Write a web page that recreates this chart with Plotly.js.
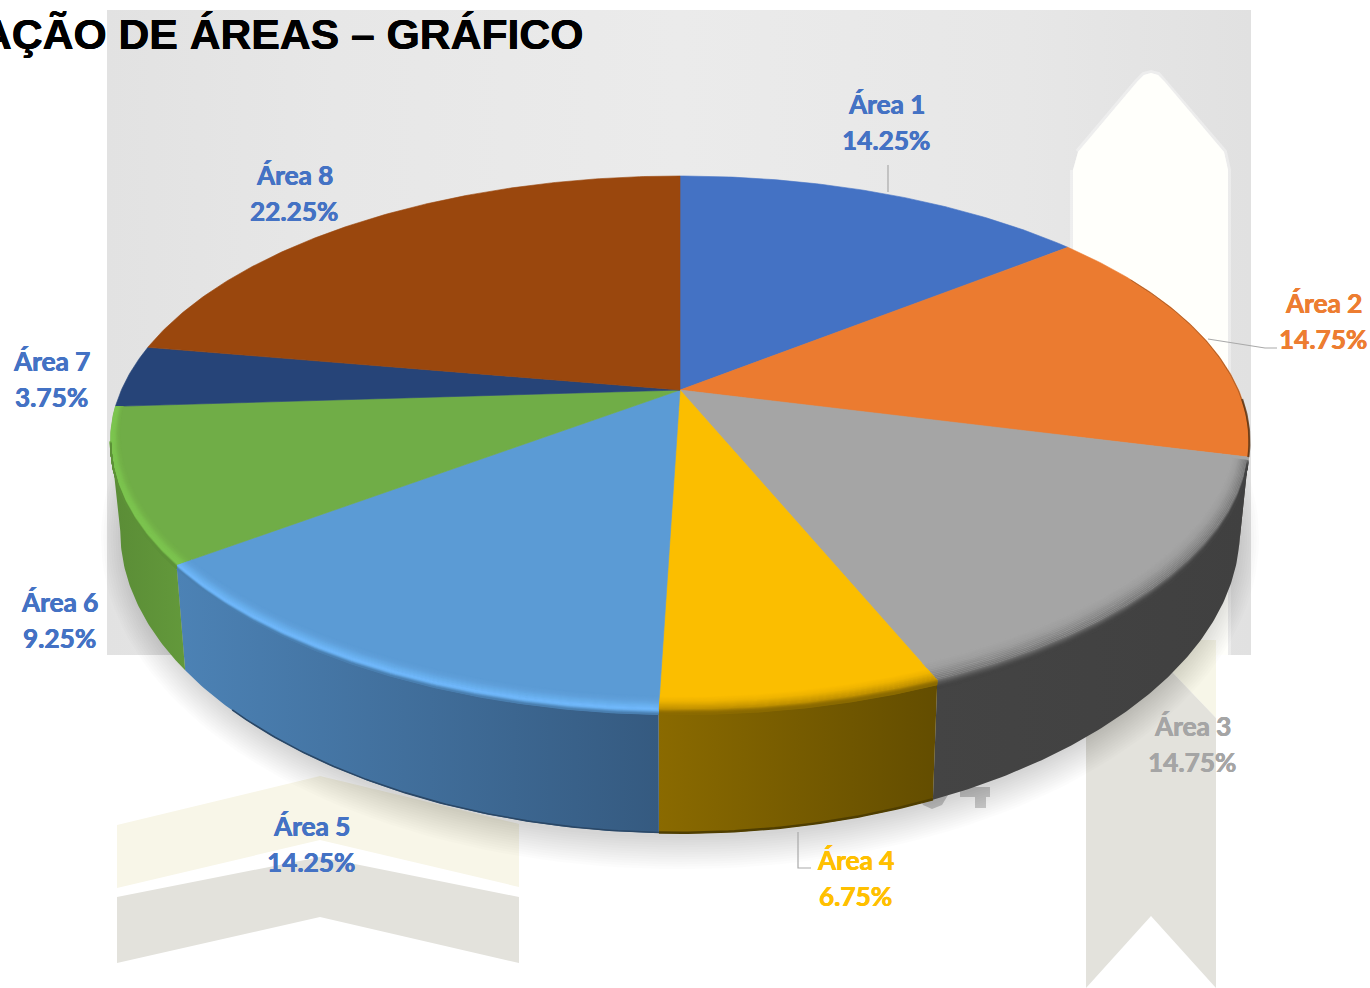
<!DOCTYPE html>
<html><head><meta charset="utf-8">
<script src="https://cdn.plot.ly/plotly-3.0.1.min.js"></script>
<style>html,body{margin:0;padding:0;background:#fff;overflow:hidden}#c{width:1370px;height:988px}</style>
</head><body><div id="c"></div>
<script>
// ---- data ----
const titleText = "AÇÃO DE ÁREAS – GRÁFICO";
const categories = ["Área 1","Área 2","Área 3","Área 4","Área 5","Área 6","Área 7","Área 8"];
const shares = [14.25,14.75,14.75,6.75,14.25,9.25,3.75,22.25];
const faceColors = ["#4472C4","#EB7B30","#A5A5A5","#FBBE00","#5B9BD5","#70AD47","#264478","#9A470D"];
const labelColors = ["#4472C4","#ED7D31","#A5A5A5","#FFC000","#4472C4","#4472C4","#4472C4","#4472C4"];
const labelX = [886,1323,1192,855,311,59,51,294];
const labelY = [103.5,302.5,725.5,859.5,825.5,601.5,360.5,174.5];
const sideLeft  = ["#444444","#454039","#444444","#8a6a00","#4c82b5","#5a8c36","#1c3358","#6e330a"];
const sideRight = ["#444444","#454039","#404040","#634d00","#355a80","#63993b","#1c3358","#6e330a"];
// bevel colours from inside the top face outward, over the rim
const bevels = {
  2:["#A5A5A5","#9c9c9c","#858585","#6c6c6c","#565656","#484848","#434343"],
  3:["#FBBE00","#eeb400","#cf9c00","#ad8300","#937000","#8a6a00"],
  4:["#5B9BD5","#5f9fda","#66ace9","#70b8fb","#6cb2f2","#5a98d0","#4a7fb0"],
  5:["#70AD47","#74b449","#7bc24e","#7cc54f","#6fad45","#5f9639","#5d9138"]
};

// ---- geometry of the tilted disc ----
const topG = {cx:680, cy:390, a:558.6, b:256.5, p:0.1985, e:0.02};
const botG = {cx:680, cy:474, a:549, b:288, p:0.1985, e:0.02};
function P(g, deg, r){
  const t = deg*Math.PI/180, s=Math.sin(t), c=Math.cos(t), w = 1+g.p*r*c;
  const squeeze = c<0 ? 1-g.e*c*c : 1;
  return [g.cx+g.a*squeeze*r*s/w, g.cy-g.b*r*c/w];
}
function wall(deg, f){
  const u = P(topG,deg,1), v = P(botG,deg,1);
  return [u[0]+(v[0]-u[0])*f, u[1]+(v[1]-u[1])*f];
}
function arc(fn, d0, d1){
  const n = Math.max(2, Math.ceil(Math.abs(d1-d0)/0.5)), o = [];
  for(let i=0;i<=n;i++) o.push(fn(d0+(d1-d0)*i/n));
  return o;
}
function hexRgb(h){return [1,3,5].map(i=>parseInt(h.substr(i,2),16));}
function mix(cols,f){
  const s=f*(cols.length-1), i=Math.min(Math.floor(s),cols.length-2), u=s-i;
  const a=hexRgb(cols[i]), b=hexRgb(cols[i+1]);
  return "rgb("+a.map((v,k)=>Math.round(v+(b[k]-v)*u)).join(",")+")";
}
const traces = [];
function poly(pts, color, extra){
  traces.push(Object.assign({type:"scatter",mode:"lines",x:pts.map(p=>p[0]),y:pts.map(p=>p[1]),
    fill:"toself",fillcolor:color,line:{width:0},hoverinfo:"skip",showlegend:false},extra||{}));
}
function stroke(pts, color, w){
  traces.push({type:"scatter",mode:"lines",x:pts.map(p=>p[0]),y:pts.map(p=>p[1]),
    line:{color:color,width:w},hoverinfo:"skip",showlegend:false});
}

// backdrop panel
const panel=[[107,10],[1251,10],[1251,655],[107,655]];
poly(panel,"#e8e8e8",{fillgradient:{type:"horizontal",colorscale:[[0,"#e2e2e2"],[0.2,"#e7e7e7"],[0.5,"#ebebeb"],[0.8,"#e7e7e7"],[1,"#e1e1e1"]]}});
// pale ribbons behind the chart
const ribbonTop=[[1073,170],[1073,655],[1228,655],[1228,170],[1224,152],[1165,82],[1158,75],[1151,73],[1144,75],[1137,82],[1078,152]];
poly(ribbonTop,"rgba(255,255,255,0.5)",{line:{color:"rgba(255,255,255,0.35)",width:6}});
poly(ribbonTop,"#fffffb");
poly([[1086,640],[1216,640],[1216,718],[1151,650],[1086,718]],"#f7f6e8");
poly([[1086,718],[1151,650],[1216,718],[1216,988],[1151,916],[1086,988]],"#e3e2dc");
poly([[117,825],[320,776],[519,824],[519,887],[320,840],[117,888]],"#f8f6e8");
poly([[117,897],[320,857],[519,897],[519,963],[320,917],[117,963]],"#e3e2dc");
// fragment of a faded number just under the disc
poly([[960,787],[990,787],[990,797],[986,797],[986,808],[975,808],[975,797],[960,797]],"#d2d2d2");
poly([[918,795],[948,795],[942,805],[932,809],[923,805]],"#d2d2d2");

// soft shadow: stacked translucent ellipses
const shadowSteps = 14;
for(let s=0;s<shadowSteps;s++){
  const g = 2+s*2.4, pts=[];
  for(let d=0;d<=360;d+=2){
    const t=d*Math.PI/180;
    pts.push([680+(546+g)*Math.sin(t), 538+(298+g)*Math.cos(t)]);
  }
  poly(pts,"rgba(0,0,0,0.0105)");
}

// slice angles from the shares
const total = shares.reduce((a,b)=>a+b,0);
const starts=[], ends=[];
shares.reduce((acc,v,i)=>{starts[i]=acc/total*360; ends[i]=(acc+v)/total*360; return acc+v;},0);

// side wall of every slice that faces the viewer (between the two tangent angles)
shares.forEach((v,i)=>{
  const d0=Math.max(starts[i],101), d1=Math.min(ends[i],259);
  if(d1<=d0) return;
  const pts = arc(d=>wall(d,0),d0,d1).concat(arc(d=>wall(d,1),d1,d0));
  poly(pts,sideLeft[i],{fillgradient:{type:"horizontal",colorscale:[[0,sideLeft[i]],[1,sideRight[i]]]}});
});
// darker foot along the bottom of the front wall
stroke(arc(d=>wall(d,0.995),starts[4],ends[4]-8),"#2a4766",1.6);
stroke(arc(d=>wall(d,0.995),starts[3],ends[3]),"#4f3e00",2.5);

// top faces
shares.forEach((v,i)=>{
  const pts=[[topG.cx,topG.cy]].concat(arc(d=>P(topG,d,1),starts[i],ends[i]));
  pts.push([topG.cx,topG.cy]);
  poly(pts,faceColors[i],{line:{color:faceColors[i],width:0.6}});
});

// rim bevel on the front slices
Object.keys(bevels).forEach(k=>{
  const i=+k, cols=bevels[k], steps=26;
  const inner = i===2 ? 0.05 : 0.034, outer = i===2 ? 0.06 : 0.03;
  const lo=Math.max(starts[i],105), hi=ends[i];
  for(let j=0;j<=steps;j++){
    const f=j/steps, pos=-inner+(inner+outer)*f;
    const hiB = pos<0 ? hi : Math.min(hi,259);
    const fn = pos<0
      ? (d=>P(topG,d,1+pos*(0.35+0.65*Math.abs(Math.cos(d*Math.PI/180)))))
      : (d=>wall(d,pos*1.2));
    stroke(arc(fn,lo,hiB),mix(cols,f),1.5);
  }
});
// thin dark edge on the orange slice where it turns away
stroke(arc(d=>P(topG,d,0.999),62,ends[1]),"rgba(110,62,24,0.5)",1);
stroke(arc(d=>P(topG,d,1),92,ends[1]),"rgba(80,45,15,0.75)",2);

// leader lines
const leaders=[[[888,192],[888,165]],[[1208,339],[1265,348],[1277,348]],[[798,832],[798,868],[811,868]]];
leaders.forEach(l=>stroke(l,"#a9a9a9",1.2));

// labels
const labelFont="Lato, Carlito, Calibri, sans-serif";
const annotations=[];
categories.forEach((c,i)=>{
  const common={xref:"x",yref:"y",x:labelX[i],showarrow:false,xanchor:"center",yanchor:"middle",
    font:{family:labelFont,size:26.2,color:labelColors[i],shadow:"0.35px 0 0 "+labelColors[i]+", -0.35px 0 0 "+labelColors[i]}};
  annotations.push(Object.assign({text:"<b>"+c+"</b>",y:labelY[i]},common));
  annotations.push(Object.assign({text:"<b>"+shares[i].toFixed(2)+"%</b>",y:labelY[i]+36},common));
});
annotations.push({text:"<b>"+titleText+"</b>",xref:"x",yref:"y",x:584.5,y:34,showarrow:false,xanchor:"right",yanchor:"middle",
  font:{family:"Liberation Sans, Arial, sans-serif",size:42.7,color:"#000",shadow:"0.3px 0 0 #000, -0.3px 0 0 #000"}});

Plotly.newPlot("c",traces,{
  width:1370,height:988,margin:{l:0,r:0,t:0,b:0,pad:0},
  paper_bgcolor:"#fff",plot_bgcolor:"#fff",showlegend:false,hovermode:false,
  xaxis:{range:[0,1370],visible:false,fixedrange:true},
  yaxis:{range:[988,0],visible:false,fixedrange:true},
  annotations:annotations
},{displayModeBar:false,staticPlot:true});
</script></body></html>
